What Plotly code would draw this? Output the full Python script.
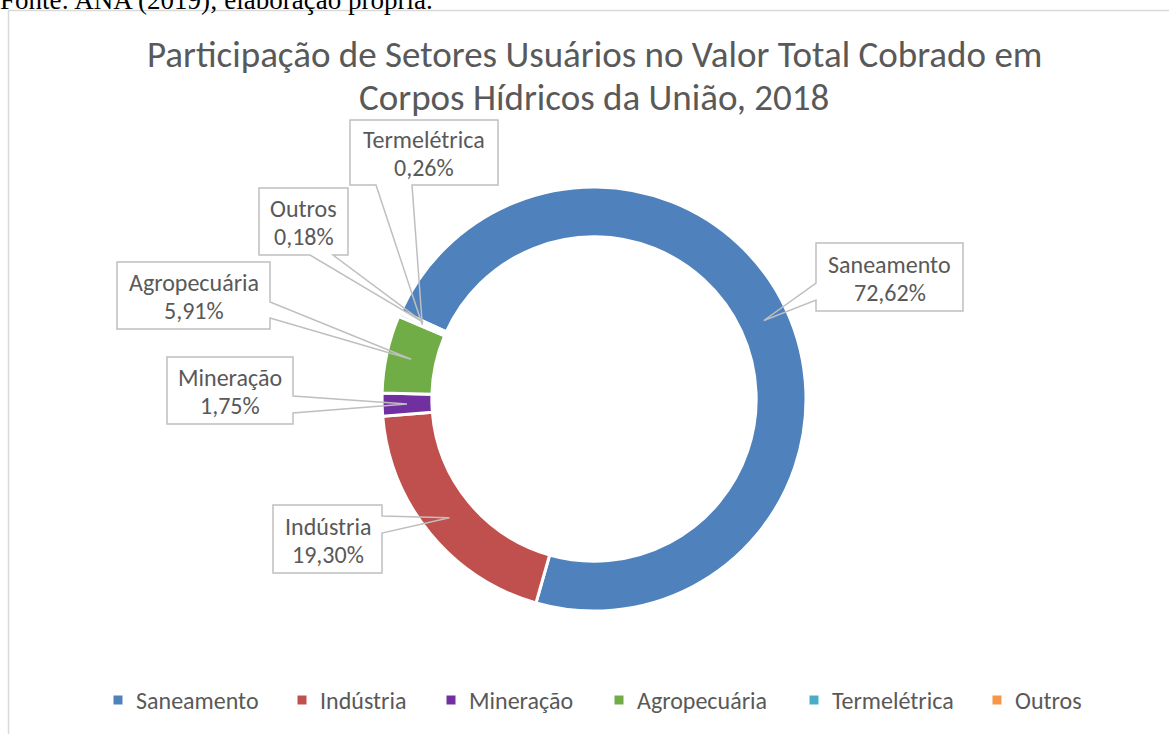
import math
import plotly.graph_objects as go

# ---- data ----
setores = ["Saneamento", "Indústria", "Mineração", "Agropecuária", "Termelétrica", "Outros"]
participacao = [72.62, 19.30, 1.75, 5.91, 0.26, 0.18]
cores = ["#4F81BD", "#C0504D", "#7030A0", "#70AD47", "#4BACC6", "#F79646"]
titulo_linhas = ["Participação de Setores Usuários no Valor Total Cobrado em",
                 "Corpos Hídricos da União, 2018"]
fonte = "Fonte: ANA (2019); elaboração própria."

# ---- layout constants (pixels) ----
W, H = 1169, 734
CX, CY, R_OUT = 594, 399, 212
HOLE = 0.765
ROT = 294.5
FONT = "Carlito, Lato, sans-serif"
TXT = "#595959"
GRID = "#BFBFBF"


def px(x):
    return x / W


def py(y):
    return 1 - y / H


fig = go.Figure()
fig.add_trace(go.Pie(
    labels=setores,
    values=participacao,
    sort=False,
    direction="clockwise",
    rotation=ROT,
    hole=HOLE,
    marker=dict(colors=cores, line=dict(color="white", width=3)),
    textinfo="none",
    hoverinfo="label+percent",
    showlegend=False,
    domain=dict(x=[px(CX - R_OUT), px(CX + R_OUT)],
                y=[py(CY + R_OUT), py(CY - R_OUT)]),
))

# slice mid angles (clockwise from 12 o'clock) computed from the data
total = sum(participacao)
mid_angles = []
acc = 0.0
for v in participacao:
    mid_angles.append(ROT + 360 * (acc + v / 2) / total)
    acc += v
r_mid = R_OUT * (1 + HOLE) / 2


def tip(i):
    a = math.radians(mid_angles[i])
    return CX + r_mid * math.sin(a), CY - r_mid * math.cos(a)


# callout boxes: (x0, y0, x1, y1, side, base_a, base_b)
boxes = [
    (816, 243, 963, 311, "left", 283, 300),
    (273, 505, 382, 573, "right", 516, 533),
    (167, 357, 293, 424, "right", 396, 413),
    (117, 262, 270, 329, "right", 302, 318),
    (350, 120, 498, 185, "bottom", 376, 412),
    (259, 188, 348, 255, "bottom", 310, 333),
]

LBL = 24
shapes = []
annotations = []
for i, (x0, y0, x1, y1, side, a, b) in enumerate(boxes):
    tx, ty = tip(i)
    shapes.append(dict(type="rect", xref="paper", yref="paper",
                       x0=px(x0), x1=px(x1), y0=py(y1), y1=py(y0),
                       fillcolor="white", line=dict(width=0), layer="above"))
    if side == "right":
        pts = [(x0, y0), (x1, y0), (x1, a), (tx, ty), (x1, b), (x1, y1), (x0, y1)]
    elif side == "left":
        pts = [(x0, y0), (x1, y0), (x1, y1), (x0, y1), (x0, b), (tx, ty), (x0, a)]
    else:
        pts = [(x0, y0), (x1, y0), (x1, y1), (b, y1), (tx, ty), (a, y1), (x0, y1)]
    path = "M " + " L ".join(f"{px(x):.5f},{py(y):.5f}" for x, y in pts) + " Z"
    shapes.append(dict(type="path", xref="paper", yref="paper", path=path,
                       fillcolor="rgba(0,0,0,0)", line=dict(color=GRID, width=1.5),
                       layer="above"))
    cx = (x0 + x1) / 2
    cy = (y0 + y1) / 2
    valor = f"{participacao[i]:.2f}".replace(".", ",") + "%"
    annotations.append(dict(x=px(cx), y=py(cy - 13), xref="paper", yref="paper",
                            text=setores[i], showarrow=False, xanchor="center", yanchor="middle",
                            font=dict(family=FONT, size=LBL, color=TXT)))
    annotations.append(dict(x=px(cx), y=py(cy + 15), xref="paper", yref="paper",
                            text=valor, showarrow=False, xanchor="center", yanchor="middle",
                            font=dict(family=FONT, size=LBL, color=TXT)))

# legend (manual, to match spacing)
leg_text_x = [136, 320, 469, 637, 832, 1015]
LEG_Y = 700
for i, name in enumerate(setores):
    mx = leg_text_x[i] - 18
    shapes.append(dict(type="rect", xref="paper", yref="paper",
                       x0=px(mx - 4.5), x1=px(mx + 4.5), y0=py(LEG_Y + 4.5), y1=py(LEG_Y - 4.5),
                       fillcolor=cores[i], line=dict(width=0)))
    annotations.append(dict(x=px(leg_text_x[i] - 2), y=py(LEG_Y), xref="paper", yref="paper",
                            text=name, showarrow=False, xanchor="left", yanchor="middle",
                            font=dict(family=FONT, size=LBL, color=TXT)))

# chart frame
shapes.append(dict(type="rect", xref="paper", yref="paper",
                   x0=px(8.5), x1=px(W + 10), y0=py(H + 10), y1=py(10.5),
                   line=dict(color="#D9D9D9", width=1.5), fillcolor="rgba(0,0,0,0)",
                   layer="below"))

# title (two lines placed separately for exact spacing)
for k, (linha, yc) in enumerate(zip(titulo_linhas, [55, 97])):
    annotations.append(dict(x=px(CX), y=py(yc), xref="paper", yref="paper",
                            text=linha, showarrow=False, xanchor="center", yanchor="middle",
                            font=dict(family=FONT, size=37, color=TXT)))
# source line (cut at top of page, as in the reference)
annotations.append(dict(x=px(-2), y=py(16.5), xref="paper", yref="paper",
                        text=fonte, showarrow=False, xanchor="left", yanchor="bottom",
                        font=dict(family="Liberation Serif, Times New Roman, serif", size=27,
                                  color="black")))

fig.update_layout(
    width=W, height=H,
    margin=dict(l=0, r=0, t=0, b=0),
    paper_bgcolor="white",
    plot_bgcolor="white",
    shapes=shapes,
    annotations=annotations,
    showlegend=False,
)

fig.write_html("out.html",
               config={"displayModeBar": False},
               post_script="document.body.style.margin='0px';document.body.style.overflow='hidden';")
